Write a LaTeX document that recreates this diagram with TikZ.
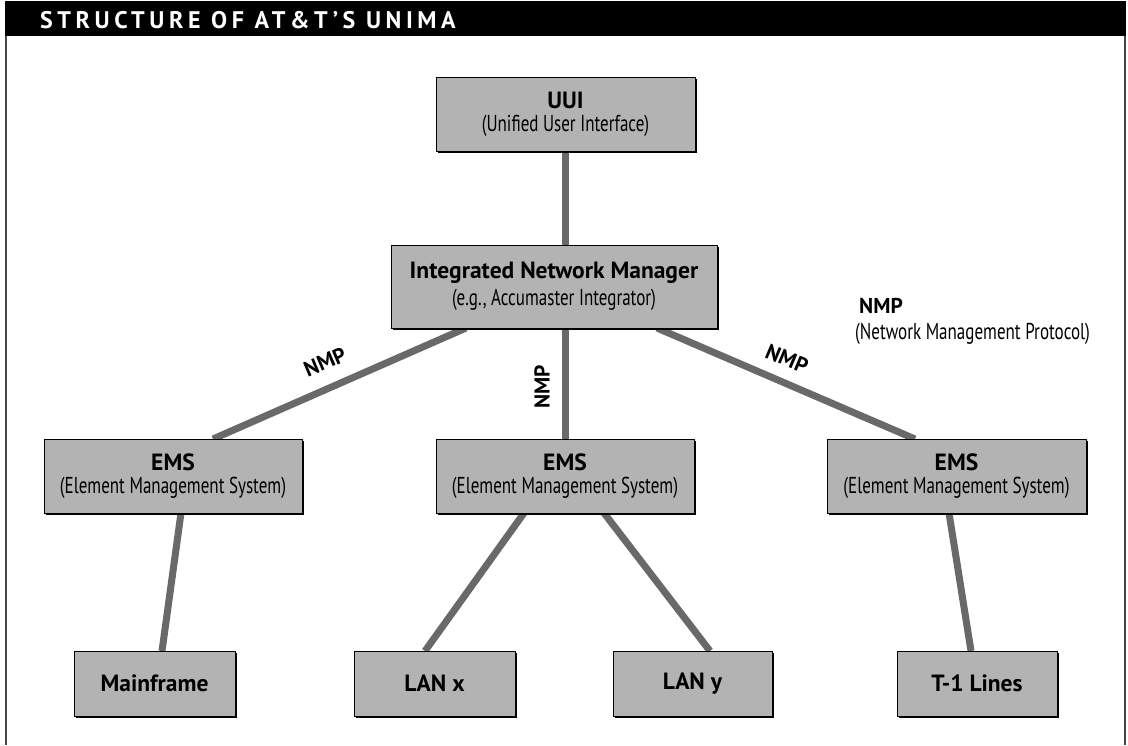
\documentclass[tikz,border=0pt]{standalone}
\usepackage{fontspec}
\setmainfont{PT Sans}
\newfontfamily\narrowfont[FakeStretch=0.74]{PT Sans}
\usetikzlibrary{shadows,calc}
\definecolor{boxgray}{RGB}{179,179,179}
\definecolor{linegray}{RGB}{105,105,105}
\definecolor{framegray}{RGB}{70,70,70}
\newcommand{\bt}[1]{{\fontsize{23.5}{26}\selectfont\bfseries #1}}
\newcommand{\st}[1]{{\fontsize{23}{26}\narrowfont #1}}
\begin{document}
\begin{tikzpicture}[x=1pt,y=-1pt,
  box/.style={draw=black, line width=1pt, fill=boxgray, inner sep=0pt, align=center,
    general shadow={fill=black, shadow xshift=2.2pt, shadow yshift=-2.2pt}},
  conn/.style={draw=linegray, line width=7pt},
  ttl/.style={font=\fontsize{23.5}{26}\selectfont\bfseries},
  lbl/.style={font=\fontsize{21.5}{24}\selectfont\bfseries, inner sep=0pt}]
\useasboundingbox (0,0) rectangle (1128,745);
% frame and header
\fill[black] (5,1) rectangle (1126,36);
\draw[framegray, line width=2.5pt] (6,36) -- (6,745);
\draw[framegray, line width=2.5pt] (1125,36) -- (1125,745);
\node[anchor=west, text=white, inner sep=0pt, font=\fontsize{24}{26}\selectfont\bfseries\addfontfeature{LetterSpace=19}] (title) at (40,20) {STRUCTURE OF AT\&T’S UNIMA};
% connectors first (behind boxes)
\coordinate (a1) at (565,151); \coordinate (a2) at (565,245);
\coordinate (b1) at (466,328); \coordinate (b2) at (213,439);
\coordinate (c1) at (565,328); \coordinate (c2) at (565,439);
\coordinate (d1) at (657,328); \coordinate (d2) at (915,439);
\coordinate (e1) at (181,513); \coordinate (e2) at (162,651);
\coordinate (f1) at (524,513); \coordinate (f2) at (425,651);
\coordinate (g1) at (604,513); \coordinate (g2) at (710,651);
\coordinate (h1) at (949,513); \coordinate (h2) at (971,651);
\draw[conn] (a1) -- (a2);
\draw[conn] (b1) -- (b2);
\draw[conn] (c1) -- (c2);
\draw[conn] (d1) -- (d2);
\draw[conn] (e1) -- (e2);
\draw[conn] (f1) -- (f2);
\draw[conn] (g1) -- (g2);
\draw[conn] (h1) -- (h2);
% boxes
\node[box, minimum width=259pt, minimum height=74pt] (uui) at (565.5,114)
  {\bt{UUI}\\[5pt]\st{(Unified User Interface)}};
\node[box, minimum width=326pt, minimum height=83pt] (inm) at (554,286.5)
  {\bt{Integrated Network Manager}\\[5pt]\st{(e.g., Accumaster Integrator)}};
\node[box, minimum width=258pt, minimum height=74pt] (emsl) at (173,476)
  {\bt{EMS}\\[5pt]\st{(Element Management System)}};
\node[box, minimum width=258pt, minimum height=74pt] (emsm) at (565,476)
  {\bt{EMS}\\[5pt]\st{(Element Management System)}};
\node[box, minimum width=259pt, minimum height=74pt] (emsr) at (956.5,476)
  {\bt{EMS}\\[5pt]\st{(Element Management System)}};
\node[box, ttl, minimum width=161pt, minimum height=65pt] (main) at (154.5,683.5) {Mainframe};
\node[box, ttl, minimum width=161pt, minimum height=65pt] (lanx) at (434.5,683.5) {LAN x};
\node[box, ttl, minimum width=159pt, minimum height=65pt] (lany) at (692.5,683.5) {LAN y};
\node[box, ttl, minimum width=160pt, minimum height=65pt] (tone) at (977,683.5) {T-1 Lines};
% labels
\node[lbl, rotate=23] (nmp1) at (325,362) {NMP};
\node[lbl, rotate=90] (nmp2) at (542,387) {NMP};
\node[lbl, rotate=-23] (nmp3) at (787,359) {NMP};
\node[lbl, anchor=west] (nmpk) at (859,306) {NMP};
\node[anchor=west, inner sep=0pt, font=\fontsize{23}{26}\narrowfont] (nmpd) at (855,334) {(Network Management Protocol)};
\end{tikzpicture}
\end{document}
